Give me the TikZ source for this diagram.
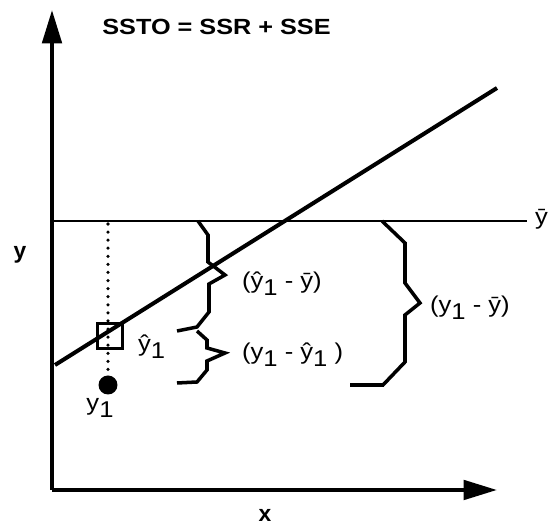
\documentclass[tikz,border=0pt]{standalone}
\usepackage{fontspec}
\setmainfont{Liberation Sans}
\usetikzlibrary{arrows.meta}
\newcommand{\sub}[1]{\raisebox{-0.6ex}{#1}}
\tikzset{
    ss axis/.style={line width=2.3pt, -{Triangle[length=19pt,width=11pt]}},
    ss fit/.style={line width=2.3pt},
    ss mean/.style={line width=1.4pt},
    ss brace/.style={line width=2pt, line join=miter},
    ss label/.style={font=\fontsize{13}{15}\selectfont\addfontfeature{FakeStretch=1.12}, inner sep=1pt},
    ss bold/.style={font=\fontsize{13}{15}\selectfont\bfseries, inner sep=1pt},
    ss title/.style={font=\fontsize{12.5}{14}\selectfont\bfseries\addfontfeature{FakeStretch=1.15}, inner sep=0pt},
}
\begin{document}
\begin{tikzpicture}[x=0.02cm, y=-0.02cm]
    \useasboundingbox (0,0) rectangle (552,526);
    % axes
    \coordinate (O) at (52,490);
    \coordinate (ytop) at (52,10);
    \coordinate (xend) at (497,490);
    \draw[ss axis] (O) -- (ytop);
    \draw[ss axis] (O) -- (xend);
    \node[ss bold] (ylab) at (20,255) {y};
    \node[ss bold] (xlab) at (265,515) {x};
    \node[ss title, anchor=west] (title) at (102,27) {SSTO = SSR + SSE};
    % mean line and fitted line
    \coordinate (m0) at (52,221);
    \coordinate (m1) at (527,221);
    \draw[ss mean] (m0) -- (m1);
    \node[ss label, anchor=west] (ybar) at (533,219) {ȳ};
    \coordinate (f0) at (55,365);
    \coordinate (f1) at (497,88);
    \draw[ss fit] (f0) -- (f1);
    % observation and fitted value
    \node[draw, line width=1.6pt, minimum size=0.5cm, inner sep=0pt] (yhat) at (110,336) {};
    \node[circle, fill=black, minimum size=0.38cm, inner sep=0pt] (yobs) at (108,385) {};
    \coordinate (dtop) at (108,224);
    \draw[line width=2pt, line cap=round, dash pattern=on 0pt off 4.6pt] (dtop) -- (yobs.north);
    \node[ss label, anchor=west] (yhatlab) at (136,347) {ŷ\sub{1}};
    \node[ss label] (yobslab) at (100,408) {y\sub{1}};
    % SSR brace
    \draw[ss brace] (198,221) -- (208,235) -- (208,262) -- (225,275) -- (209,284)
        -- (209,312) -- (197,327) -- (177,331);
    \node[ss label, anchor=west] (ssr) at (240,284) {(ŷ\sub{1} - ȳ)};
    % SSE brace
    \draw[ss brace] (197,331) -- (207,340) -- (207,348) -- (225,353) -- (207,361)
        -- (207,370) -- (197,382) -- (177,383);
    \node[ss label, anchor=west] (sse) at (240,355) {(y\sub{1} - ŷ\sub{1} )};
    % SSTO brace
    \draw[ss brace] (382,221) -- (405,243) -- (405,283) -- (420,303) -- (405,315)
        -- (405,362) -- (383,385) -- (350,385);
    \node[ss label, anchor=west] (ssto) at (428,308) {(y\sub{1} - ȳ)};
\end{tikzpicture}
\end{document}
